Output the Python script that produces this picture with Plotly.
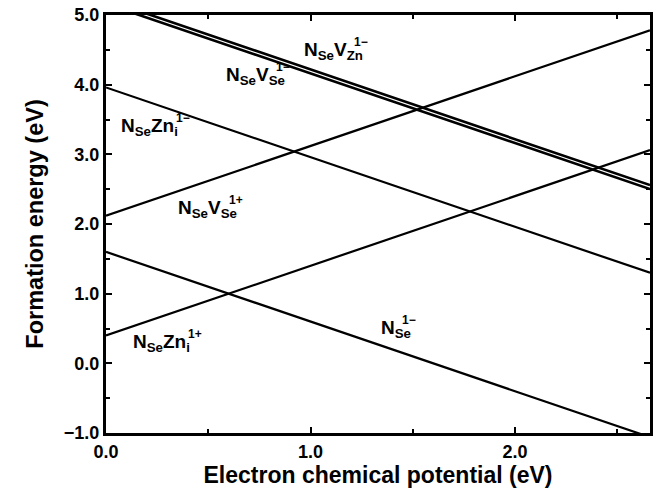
import plotly.graph_objects as go

# Electron chemical potential range (eV)
mu_range = [0.0, 2.66]

# Defect lines: formation energy at mu=0 and slope (charge state)
defects = ["NSe_1m", "NSeZni_1p", "NSeZni_1m", "NSeVSe_1p", "NSeVSe_1m", "NSeVZn_1m"]
e0 = [1.60, 0.40, 3.96, 2.12, 5.162, 5.218]
charge = [-1, 1, -1, 1, -1, -1]
line_w = [2.2, 2.2, 2.2, 2.2, 2.6, 2.6]

# Labels: base text (with subscripts) and stacked superscript (charge)
label_base = [
    "N<sub>Se</sub>",
    "N<sub>Se</sub>Zn<sub>i</sub>",
    "N<sub>Se</sub>Zn<sub>i</sub>",
    "N<sub>Se</sub>V<sub>Se</sub>",
    "N<sub>Se</sub>V<sub>Se</sub>",
    "N<sub>Se</sub>V<sub>Zn</sub>",
]
label_sup = ["1−", "1+", "1−", "1+", "1−", "1−"]
label_x = [1.34, 0.127, 0.068, 0.347, 0.582, 0.964]
label_y = [0.46, 0.27, 3.36, 2.18, 4.09, 4.46]
# pixel offset of the superscript from the label's left edge (style)
sup_offset = [21, 55, 55, 51, 50, 50]

FONT = "Liberation Sans"

fig = go.Figure()
for name, b, q, w in zip(defects, e0, charge, line_w):
    xs = mu_range
    ys = [b + q * x for x in xs]
    fig.add_trace(go.Scatter(x=xs, y=ys, mode="lines", name=name,
                             line=dict(color="black", width=w), showlegend=False))

for t, s, x, y, off in zip(label_base, label_sup, label_x, label_y, sup_offset):
    fig.add_annotation(x=x, y=y, text="<b>" + t + "</b>", showarrow=False,
                       xanchor="left", yanchor="middle", yshift=2, borderpad=0,
                       font=dict(family=FONT, size=19, color="black"))
    fig.add_annotation(x=x, y=y, text="<b>" + s + "</b>", showarrow=False,
                       xanchor="left", yanchor="middle", xshift=off, yshift=11,
                       borderpad=0,
                       font=dict(family=FONT, size=12, color="black"))

axis_common = dict(
    showline=True, linecolor="black", linewidth=3, mirror="ticks",
    ticks="inside", ticklen=6, tickwidth=2, tickcolor="black",
    showgrid=False, zeroline=False, tickformat=".1f", automargin=False,
    tickfont=dict(family=FONT, size=18, color="black"),
)

fig.update_xaxes(range=mu_range, dtick=1.0, tick0=0,
                 minor=dict(dtick=0.5, ticks="inside", ticklen=4, tickwidth=2, tickcolor="black"),
                 title=dict(text="<b>Electron chemical potential (eV)</b>",
                            font=dict(family=FONT, size=23, color="black"), standoff=3),
                 **axis_common)
fig.update_yaxes(range=[-1.0, 5.0], dtick=1.0, tick0=0,
                 minor=dict(dtick=0.5, ticks="inside", ticklen=4, tickwidth=2, tickcolor="black"),
                 title=dict(text="<b>Formation energy (eV)</b>",
                            font=dict(family=FONT, size=23.5, color="black"), standoff=14),
                 **axis_common)

fig.update_layout(
    width=659, height=493,
    margin=dict(l=106, r=9, t=15, b=60),
    plot_bgcolor="white", paper_bgcolor="white",
    font=dict(family=FONT, color="black"),
)
fig.update_xaxes(tickprefix="<b>", ticksuffix="</b>")
fig.update_yaxes(tickprefix="<b>", ticksuffix="</b>")

fig.write_html("out.html", config={"displayModeBar": False},
               post_script="document.body.style.margin='0px';document.body.style.padding='0px';")
